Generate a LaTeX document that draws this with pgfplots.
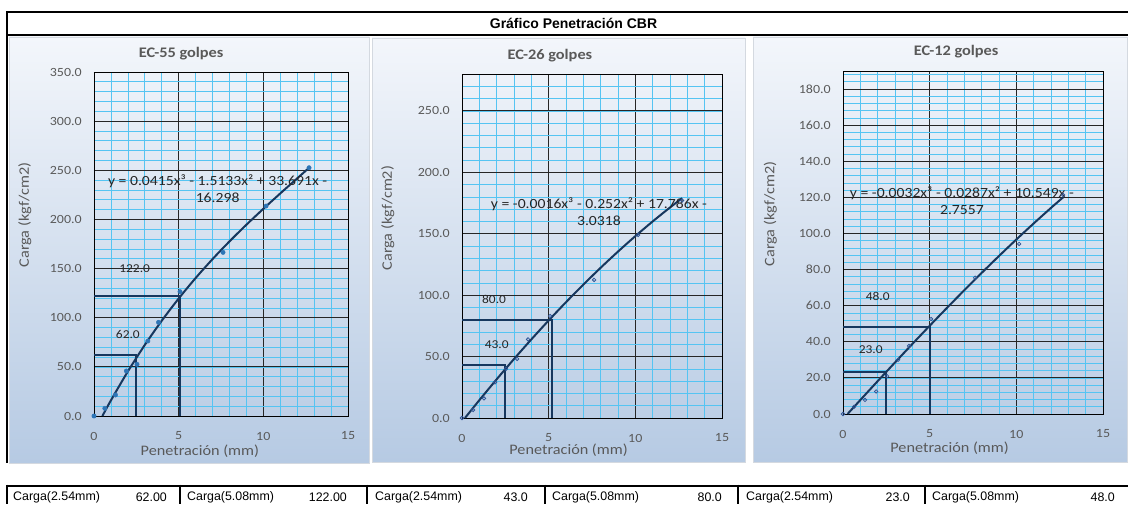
\documentclass[border=0pt]{standalone}
\usepackage{pgfplots}
\pgfplotsset{compat=1.18}
\usepackage{fontspec}
\setmainfont{Carlito}
\newfontfamily\calibri{Carlito}[FakeStretch=1.12]
\newfontfamily\arial{Liberation Sans}

\definecolor{navy}{HTML}{17375E}
\definecolor{ptblue}{HTML}{2E75B6}
\definecolor{ringblue}{HTML}{2F5597}
\definecolor{gridcyan}{HTML}{55C4F2}
\definecolor{txtgrey}{HTML}{595959}
\definecolor{panelTop}{HTML}{F3F6FB}
\definecolor{panelBot}{HTML}{B6CAE3}
\definecolor{panelEdge}{HTML}{D4D9E0}

\newcommand\fs[1]{\fontsize{#1}{#1}\selectfont}

\pgfplotsset{
  cbr/.style={
    scale only axis, anchor=south west,
    xmin=0, xmax=15, ymin=0,
    xtick={0,5,10,15}, minor xtick={0,1,...,15},
    grid=both,
    major grid style={black!85, line width=0.8pt},
    minor grid style={gridcyan, line width=0.7pt},
    axis line style={black, line width=0.9pt},
    major tick length=0pt, minor tick length=0pt,
    /pgf/number format/assume math mode=true,
    tick label style={font=\calibri\fs{12.5}, text=txtgrey},
    xticklabel style={anchor=center, yshift=-20pt},
    yticklabel style={anchor=east, inner sep=0pt, xshift=-12pt,
      /pgf/number format/.cd, fixed, fixed zerofill, precision=1},
    xlabel={Penetración (mm)}, ylabel={Carga (kgf/cm2)},
    label style={font=\calibri\fs{14.5}, text=txtgrey},
    title style={font=\calibri\bfseries\fs{14.6}, text=txtgrey, yshift=-8pt},
  },
  pts/.style={only marks, mark=*, mark size=2.2pt, color=ptblue},
  rings/.style={only marks, mark=o, mark size=1.7pt, color=ringblue, mark options={line width=0.8pt}},
  trend/.style={no marks, smooth, navy, line width=2pt},
  guide/.style={no marks, navy, line width=2pt},
}

\begin{document}
\begin{tikzpicture}
\fill[white] (0pt,0pt) rectangle (1128pt,504pt);
\useasboundingbox (0pt,0pt) rectangle (1128pt,504pt);

% panel backgrounds
\shade[top color=panelTop, bottom color=panelBot] (9pt,41pt) rectangle (369pt,467pt);
\draw[panelEdge, line width=0.8pt] (9pt,41pt) rectangle (369pt,467pt);
\shade[top color=panelTop, bottom color=panelBot] (372pt,42pt) rectangle (745pt,466pt);
\draw[panelEdge, line width=0.8pt] (372pt,42pt) rectangle (745pt,466pt);
\shade[top color=panelTop, bottom color=panelBot] (753pt,42pt) rectangle (1127pt,467pt);
\draw[panelEdge, line width=0.8pt] (753pt,42pt) rectangle (1127pt,467pt);

% outer frame and title row
\draw[black, line width=2.5pt] (1128pt,492pt) -- (7pt,492pt) -- (7pt,41pt);
\draw[black, line width=2.5pt] (7pt,469pt) -- (1128pt,469pt);
\node[font=\arial\bfseries\fs{14}] at (573.5pt,480.5pt) {Gráfico Penetración CBR};

% summary row
\draw[black, line width=2pt] (7pt,18.5pt) -- (1128pt,18.5pt);
\foreach \sx in {7,180,367,545,738,925}
  \draw[black, line width=2pt] (\sx pt,19.5pt) -- (\sx pt,0pt);
\begin{scope}[every node/.style={font=\arial\fs{12.4}, inner sep=0pt}]
  \node[anchor=west] at (13pt,7pt) {Carga(2.54mm)};
  \node[anchor=east] at (167pt,7pt) {62.00};
  \node[anchor=west] at (187pt,7pt) {Carga(5.08mm)};
  \node[anchor=east] at (347pt,7pt) {122.00};
  \node[anchor=west] at (375pt,7pt) {Carga(2.54mm)};
  \node[anchor=east] at (528pt,7pt) {43.0};
  \node[anchor=west] at (552pt,7pt) {Carga(5.08mm)};
  \node[anchor=east] at (722pt,7pt) {80.0};
  \node[anchor=west] at (746pt,7pt) {Carga(2.54mm)};
  \node[anchor=east] at (910pt,7pt) {23.0};
  \node[anchor=west] at (932pt,7pt) {Carga(5.08mm)};
  \node[anchor=east] at (1115pt,7pt) {48.0};
\end{scope}

% EC-55
\begin{axis}[cbr, at={(94pt,88pt)}, width=254pt, height=344pt,
  ymax=350, ytick={0,50,...,350}, minor ytick={0,10,...,350},
  title={EC-55 golpes},
  title style={at={(axis description cs:0.343,1.058)}, anchor=center},
  xlabel style={at={(axis description cs:0.417,-0.102)}, anchor=center},
  ylabel style={at={(axis description cs:-0.272,0.584)}, anchor=center}]
\addplot[pts] coordinates {(0,0) (0.64,7.8) (1.27,21.4) (1.91,45.8) (2.54,52.6) (3.18,76.3)
  (3.81,95.3) (5.08,126.5) (7.62,166.5) (10.16,213.6) (12.7,252.6)};
\addplot[trend] coordinates {(0.495,0) (1,15.92) (2,45.36) (3,72.28) (4,96.91) (5,119.51)
  (6,140.33) (7,159.62) (8,177.63) (9,194.60) (10,210.78) (11,226.43) (12,241.79) (12.7,252.51)};
\addplot[guide] coordinates {(0,122) (5.05,122) (5.05,0)};
\addplot[guide] coordinates {(0,62) (2.5,62) (2.5,0)};
\node[font=\calibri\fs{12}, text=black!85] at (axis cs:2.4,149.5) {122.0};
\node[font=\calibri\fs{12}, text=black!85] at (axis cs:2.0,83.4) {62.0};
\node[font=\calibri\fontsize{14}{17}\selectfont, text=black!85, align=center]
  at (axis cs:7.3,231.5) {y = 0.0415x³ - 1.5133x² + 33.691x -\\16.298};
\end{axis}

% EC-26
\begin{axis}[cbr, at={(462pt,86pt)}, width=260pt, height=344pt,
  ymax=280, ytick={0,50,...,250}, minor ytick={0,10,...,280},
  title={EC-26 golpes},
  title style={at={(axis description cs:0.338,1.060)}, anchor=center},
  xlabel style={at={(axis description cs:0.41,-0.095)}, anchor=center},
  ylabel style={at={(axis description cs:-0.285,0.581)}, anchor=center}]
\addplot[rings] coordinates {(0,0) (0.64,6.5) (1.27,15.9) (1.91,29) (2.54,40) (3.18,48.1)
  (3.81,64.0) (5.08,83.0) (7.62,112.4) (10.16,149.0) (12.7,177)};
\addplot[trend] coordinates {(0.171,0) (1,14.50) (2,31.52) (3,48.02) (4,63.98) (5,79.40)
  (6,94.27) (7,108.57) (8,122.31) (9,135.46) (10,148.03) (11,159.99) (12,171.35) (12.7,178.93)};
\addplot[guide] coordinates {(0,80) (5.2,80) (5.2,0)};
\addplot[guide] coordinates {(0,43) (2.48,43) (2.48,0)};
\node[font=\calibri\fs{12}, text=black!85] at (axis cs:1.85,96.8) {80.0};
\node[font=\calibri\fs{12}, text=black!85] at (axis cs:2.0,59.4) {43.0};
\node[font=\calibri\fontsize{14}{17}\selectfont, text=black!85, align=center]
  at (axis cs:7.9,167.7) {y = -0.0016x³ - 0.252x² + 17.786x -\\3.0318};
\end{axis}

% EC-12
\begin{axis}[cbr, at={(843pt,90pt)}, width=260pt, height=343pt,
  ymax=190, ytick={0,20,...,180}, minor ytick={0,4,...,188},
  title={EC-12 golpes},
  title style={at={(axis description cs:0.435,1.061)}, anchor=center},
  xlabel style={at={(axis description cs:0.41,-0.099)}, anchor=center},
  ylabel style={at={(axis description cs:-0.28,0.583)}, anchor=center}]
\addplot[rings] coordinates {(0,0) (0.64,4.0) (1.27,7.8) (1.91,12.5) (2.54,21) (3.18,30)
  (3.81,37.7) (5.08,52.6) (7.62,75.5) (10.16,94.2) (12.7,121.3)};
\addplot[trend] coordinates {(0.2615,0) (1,7.76) (2,18.20) (3,28.55) (4,38.78) (5,48.87)
  (6,58.81) (7,68.58) (8,78.16) (9,87.53) (10,96.66) (11,105.55) (12,114.17) (12.7,120.03)};
\addplot[guide] coordinates {(0,48) (5.0,48) (5.0,0)};
\addplot[guide] coordinates {(0,23) (2.5,23) (2.5,0)};
\node[font=\calibri\fs{12}, text=black!85] at (axis cs:2.0,65) {48.0};
\node[font=\calibri\fs{12}, text=black!85] at (axis cs:1.6,35.5) {23.0};
\node[font=\calibri\fontsize{14}{17}\selectfont, text=black!85, align=center]
  at (axis cs:6.86,118) {y = -0.0032x³ - 0.0287x² + 10.549x -\\2.7557};
\end{axis}
\end{tikzpicture}
\end{document}
